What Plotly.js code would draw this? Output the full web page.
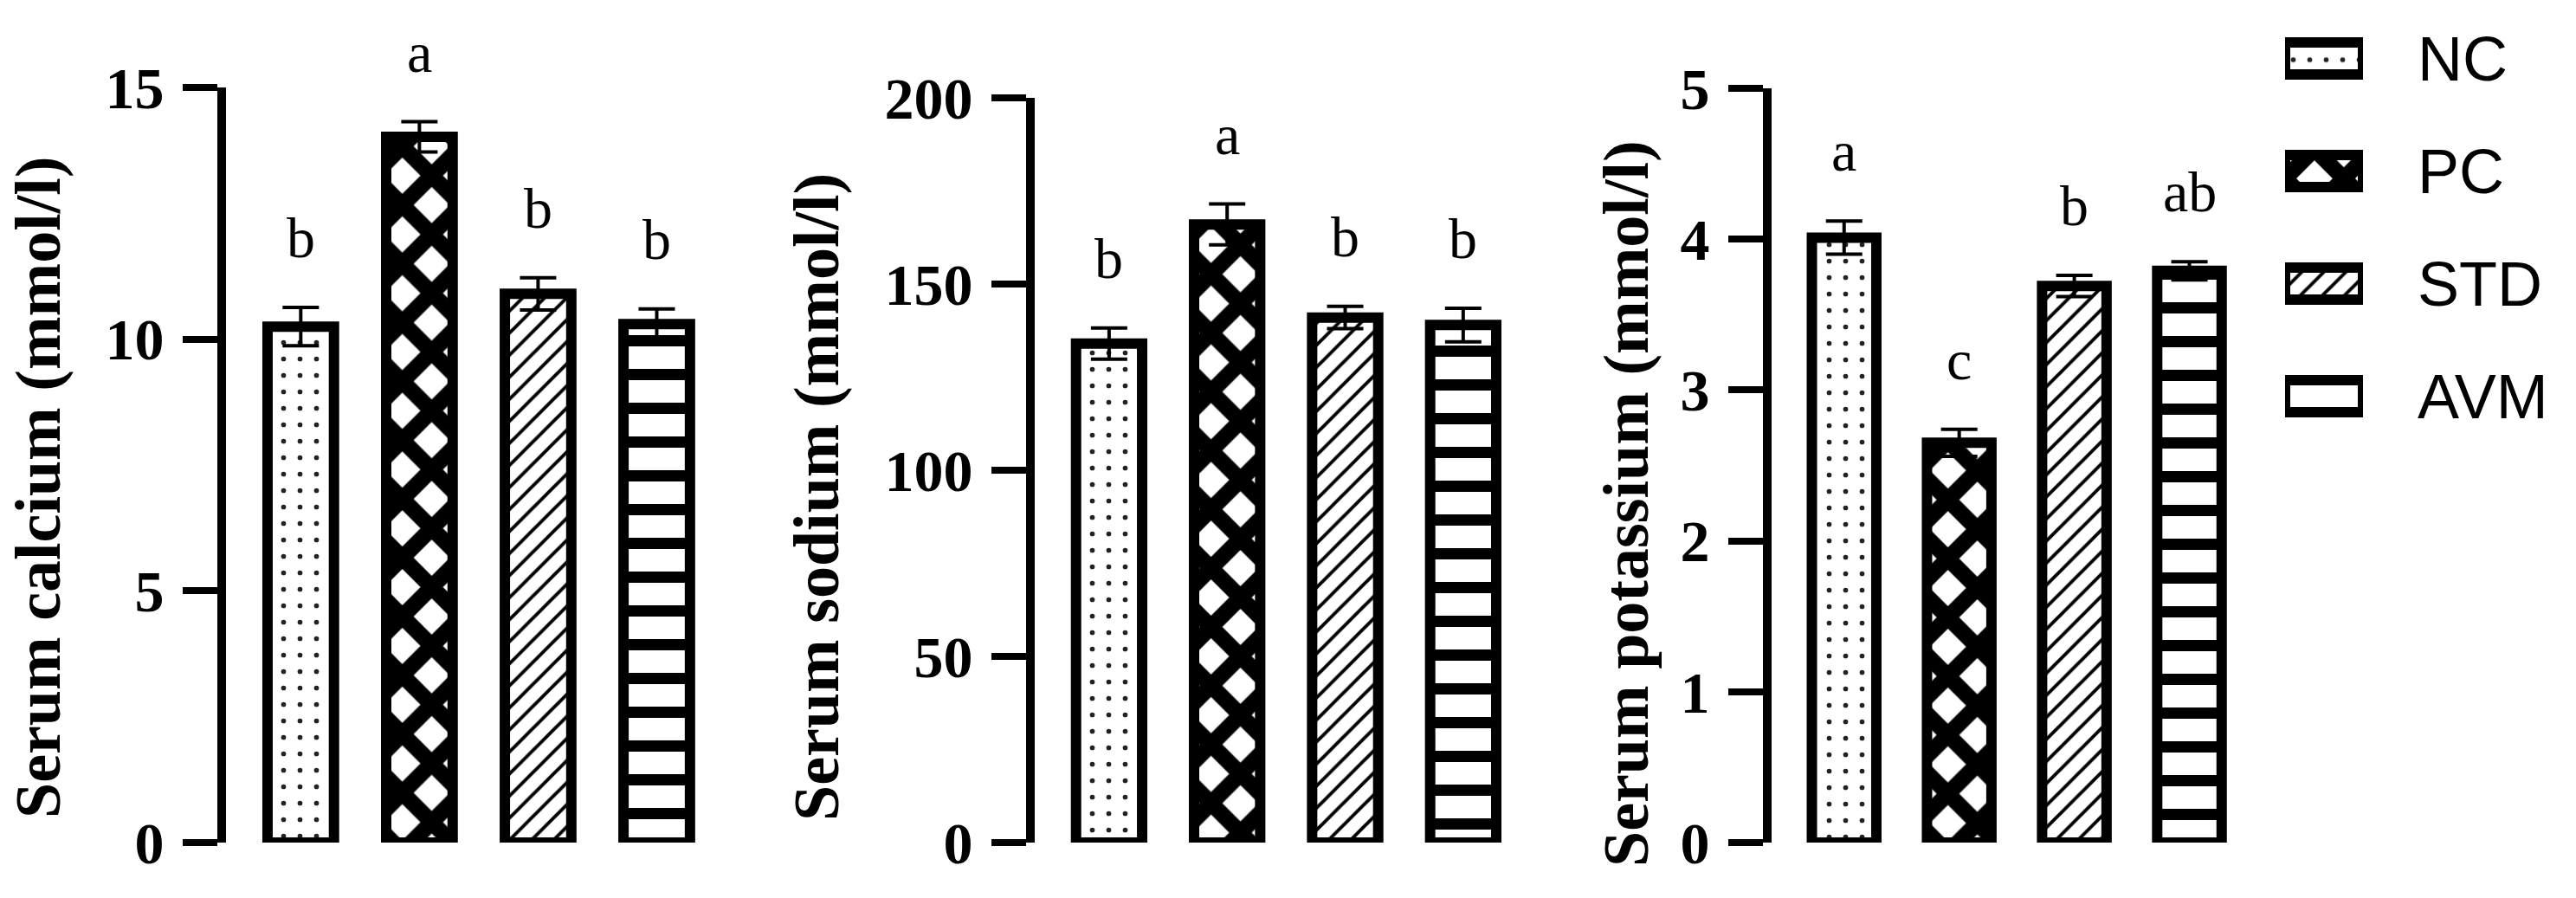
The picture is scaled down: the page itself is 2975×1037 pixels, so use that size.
<!DOCTYPE html>
<html>
<head>
<meta charset="utf-8">
<script src="https://cdn.plot.ly/plotly-3.0.1.min.js"></script>
<style>html,body{margin:0;padding:0;background:#fff;}#chart{width:2975px;height:1037px;}</style>
</head>
<body>
<div id="chart"></div>
<script>
// ---- data ----
const groups = ['NC', 'PC', 'STD', 'AVM'];

const calcium = [10.25, 14.02, 10.9, 10.3];
const calciumErr = [0.38, 0.3, 0.32, 0.3];
const calciumLetters = ['b', 'a', 'b', 'b'];

const sodium = [134, 166, 141, 139];
const sodiumErr = [4.2, 5.5, 3, 4.5];
const sodiumLetters = ['b', 'a', 'b', 'b'];

const potassium = [4.01, 2.65, 3.69, 3.79];
const potassiumErr = [0.11, 0.09, 0.07, 0.06];
const potassiumLetters = ['a', 'c', 'b', 'ab'];

const panelTitles = ['Serum calcium (mmol/l)', 'Serum sodium (mmol/l)', 'Serum potassium (mmol/l)'];
const panelRanges = [[0, 15], [0, 200], [0, 5]];
const panelDticks = [5, 50, 1];

// ---- styles ----
const W = 2975, H = 1037;
const serifBold = {family: 'Liberation Serif, Times New Roman, serif', size: 68, color: '#000', weight: 'bold'};
const titleFont = {family: 'Liberation Serif, Times New Roman, serif', size: 74, color: '#000', weight: 'bold'};
const letterFont = {family: 'Liberation Serif, Times New Roman, serif', size: 66, color: '#000'};

const patternStyle = {
  NC:  {shape: '.', size: 19, solidity: 0.07, fgcolor: '#222', bgcolor: '#fff'},
  PC:  {shape: 'x', size: 48, solidity: 0.62, fgcolor: '#000', bgcolor: '#fff'},
  STD: {shape: '/', size: 18, solidity: 0.22, fgcolor: '#000', bgcolor: '#fff'},
  AVM: {shape: '-', size: 39, solidity: 0.33, fgcolor: '#000', bgcolor: '#fff'}
};
// legend swatches: the AVM swatch is too small to show a stripe
const legendShape = {NC: '.', PC: 'x', STD: '/', AVM: ''};

function pattern(shapeOf) {
  return {
    shape: groups.map(g => shapeOf ? shapeOf[g] : patternStyle[g].shape),
    size: groups.map(g => patternStyle[g].size),
    solidity: groups.map(g => patternStyle[g].solidity),
    fgcolor: groups.map(g => patternStyle[g].fgcolor),
    bgcolor: groups.map(g => patternStyle[g].bgcolor),
    fillmode: 'replace'
  };
}

// pixel layout helpers
const xDomPx = [[261, 827], [1195, 1758], [2046, 2595]];
const yDomPx = [[101, 973], [113, 973], [102, 973]];
const titlePosPx = [[44, 563], [943, 574], [1878, 582]];
const fx = p => p / W;
const fy = p => (H - p) / H;

const series = [
  {v: calcium, e: calciumErr, l: calciumLetters},
  {v: sodium, e: sodiumErr, l: sodiumLetters},
  {v: potassium, e: potassiumErr, l: potassiumLetters}
];

const traces = [];
const annotations = [];
const layout = {
  width: W, height: H,
  margin: {l: 0, r: 0, t: 0, b: 0},
  paper_bgcolor: '#fff', plot_bgcolor: 'rgba(0,0,0,0)',
  showlegend: false, hovermode: false
};

series.forEach((s, i) => {
  const n = i + 1;
  const xa = 'x' + (n === 1 ? '' : n), ya = 'y' + (n === 1 ? '' : n);
  traces.push({
    type: 'bar', x: groups, y: s.v, xaxis: xa, yaxis: ya,
    width: 0.56,
    marker: {color: '#fff', line: {color: '#000', width: 12}, pattern: pattern()},
    error_y: {type: 'data', array: s.e, visible: true, color: '#000', thickness: 4, width: 21},
    cliponaxis: false
  });
  layout['xaxis' + (n === 1 ? '' : n)] = {
    domain: [fx(xDomPx[i][0]), fx(xDomPx[i][1])],
    anchor: ya, type: 'category', categoryarray: groups,
    range: [-0.63, 3.5], showline: false, showticklabels: false, ticks: '',
    showgrid: false, zeroline: false, fixedrange: true
  };
  layout['yaxis' + (n === 1 ? '' : n)] = {
    domain: [fy(yDomPx[i][1]), fy(yDomPx[i][0])],
    anchor: xa, range: panelRanges[i], dtick: panelDticks[i],
    showline: true, linewidth: 10, linecolor: '#000',
    ticks: 'outside', ticklen: 40, tickwidth: 8, tickcolor: '#000',
    tickfont: serifBold, ticklabelstandoff: 8,
    showgrid: false, zeroline: false
  };
  // axis title (rotated text)
  annotations.push({
    xref: 'paper', yref: 'paper', x: fx(titlePosPx[i][0]), y: fy(titlePosPx[i][1]),
    xanchor: 'center', yanchor: 'middle', textangle: -90,
    text: panelTitles[i], showarrow: false, font: titleFont
  });
  groups.forEach((g, j) => {
    annotations.push({
      xref: xa, yref: ya, x: g, y: s.v[j] + s.e[j],
      text: s.l[j], showarrow: false, yanchor: 'bottom', yshift: 42,
      font: letterFont
    });
  });
});

// legend built as a small horizontal bar panel
traces.push({
  type: 'bar', orientation: 'h', y: groups, x: groups.map(() => 1),
  xaxis: 'x4', yaxis: 'y4', width: 0.285,
  marker: {color: '#fff', line: {color: '#000', width: 12}, pattern: pattern(legendShape)}
});
layout.xaxis4 = {domain: [fx(2639), fx(2729)], anchor: 'y4', range: [0, 1], visible: false, fixedrange: true};
layout.yaxis4 = {
  domain: [fy(522.5), fy(2.5)], anchor: 'x4', side: 'right',
  type: 'category', categoryarray: groups, autorange: 'reversed',
  showline: false, ticks: '', showgrid: false, zeroline: false,
  tickfont: {family: 'Liberation Sans, Arial, sans-serif', size: 72, color: '#000'},
  ticklabelstandoff: 62
};
layout.annotations = annotations;

Plotly.newPlot('chart', traces, layout, {displayModeBar: false, staticPlot: true});
</script>
</body>
</html>
